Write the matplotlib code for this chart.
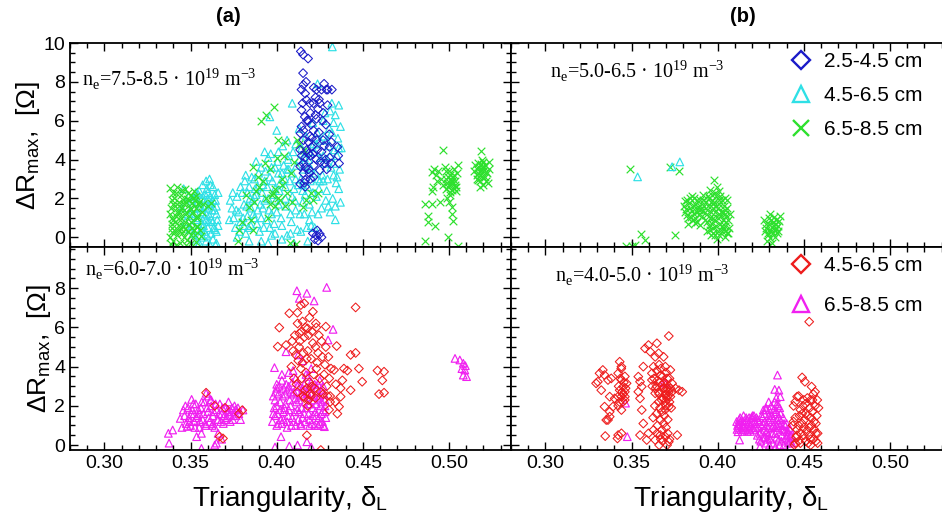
import numpy as np
import matplotlib
matplotlib.use("Agg")
import matplotlib.pyplot as plt
from matplotlib.lines import Line2D
from matplotlib.ticker import MultipleLocator

plt.rcParams['font.family'] = ['Liberation Sans', 'DejaVu Sans']
plt.rcParams['mathtext.fontset'] = 'custom'
plt.rcParams['mathtext.rm'] = 'Liberation Serif'
plt.rcParams['mathtext.sf'] = 'Liberation Sans'

# colours of the radial position bins
BLUE = '#1a1ac8'
CYAN = '#2fe0e6'
GREEN = '#2ee02e'
RED = '#ee1c1c'
MAGENTA = '#f020f0'

# ---- data: (triangularity, dR_max) ----
# (a) top: n_e = 7.5-8.5
tl_green = [
    (0.338, 2.55), (0.340, 2.3), (0.342, 2.6), (0.345, 2.45), (0.347, 2.5), (0.350, 2.2), (0.352, 2.4),
    (0.339, 1.9), (0.341, 1.6), (0.343, 1.8), (0.346, 1.7), (0.348, 1.95), (0.351, 1.75), (0.353, 1.5),
    (0.355, 1.8), (0.357, 1.7), (0.360, 1.6), (0.362, 1.75), (0.338, 1.2), (0.340, 0.9), (0.342, 1.3),
    (0.344, 1.05), (0.346, 1.4), (0.349, 1.1), (0.351, 1.25), (0.354, 1.0), (0.339, 0.5), (0.341, 0.3),
    (0.343, 0.65), (0.345, 0.2), (0.347, 0.45), (0.349, 0.7), (0.352, 0.35), (0.354, 0.55), (0.338, 0.0),
    (0.340, -0.2), (0.342, 0.1), (0.344, -0.3), (0.346, 0.0), (0.348, -0.15), (0.350, 0.1), (0.353, -0.25),
    (0.356, 0.05), (0.3385, 1.5), (0.3395, 0.7), (0.3405, 2.0), (0.3415, 1.1), (0.3425, 0.4), (0.3435, 1.6),
    (0.3445, 2.2), (0.3455, 0.6), (0.3465, 1.2), (0.3475, 1.8), (0.3485, 0.3), (0.3495, 1.5), (0.3505, 0.8),
    (0.3515, 2.0), (0.3525, 0.1), (0.3535, 1.1), (0.3545, 1.7), (0.3555, 0.4), (0.3565, 1.3), (0.3385, -0.35),
    (0.3415, -0.4), (0.3445, 0.45), (0.3475, -0.4), (0.3505, -0.3), (0.3535, 0.6), (0.3415, 2.3),
    (0.3485, 2.3), (0.3525, 1.9), (0.3395, 1.0), (0.3455, 1.9), (0.3505, 1.45), (0.3390, 0.25),
    (0.3410, 0.8), (0.3430, 1.3), (0.3450, 1.5), (0.3470, 0.8), (0.3490, 1.9), (0.3510, 0.5), (0.3530, 2.1),
    (0.3400, 1.7), (0.3440, 0.9),
    (0.391, 6.0), (0.394, 6.3), (0.3985, 6.7), (0.4005, 5.0), (0.405, 4.9), (0.393, 3.8), (0.396, 3.5),
    (0.397, 2.2), (0.399, 2.5), (0.401, 2.0), (0.384, 1.55), (0.387, 1.8), (0.378, 0.35), (0.3775, -0.2),
    (0.380, 0.8), (0.4075, -0.3), (0.411, -0.35), (0.415, 1.55), (0.417, 1.9), (0.4085, 3.3), (0.410, 3.9),
    (0.403, 2.7), (0.405, 1.6), (0.395, 1.0), (0.392, 2.9), (0.389, 3.1), (0.400, 4.1), (0.412, 5.0),
    (0.420, 2.3), (0.416, 4.5), (0.386, 0.4), (0.396, 1.7), (0.398, 2.3), (0.402, 1.9), (0.413, 4.8),
    (0.421, 1.9), (0.424, 2.3), (0.386, 3.6), (0.382, 2.2), (0.390, 2.6), (0.394, 2.0), (0.399, 1.6),
    (0.403, 3.0), (0.406, 2.3), (0.409, 1.8), (0.385, 0.9), (0.388, 2.4), (0.404, 4.2),
    (0.4968, 4.48), (0.4900, 3.36), (0.4915, 3.5), (0.4935, 3.4), (0.4977, 3.6), (0.5054, 3.7), (0.5030, 3.5),
    (0.4902, 2.4), (0.4910, 2.6), (0.4930, 2.9), (0.4996, 3.1), (0.5015, 2.76), (0.5030, 2.55), (0.5006, 2.2),
    (0.4990, 2.0), (0.5015, 1.55), (0.5020, 1.2), (0.5025, 0.86), (0.4862, 1.72), (0.4900, 1.72),
    (0.4948, 1.8), (0.4881, 1.12), (0.4881, 0.78), (0.4919, 0.6), (0.4992, 0.03), (0.4858, -0.17),
    (0.5054, -0.43), (0.500, 2.7), (0.502, 2.9), (0.504, 2.6), (0.499, 2.8), (0.501, 3.0), (0.503, 3.2),
    (0.498, 2.5), (0.5005, 2.35), (0.5035, 2.9), (0.5045, 3.3), (0.4955, 3.0), (0.4925, 3.2), (0.4985, 3.4),
    (0.500, 1.8), (0.4995, 2.6), (0.5005, 3.2), (0.5015, 2.45), (0.5025, 3.1), (0.5035, 2.7), (0.5010, 2.9),
    (0.4980, 3.0), (0.5040, 2.4), (0.4965, 2.7), (0.5000, 3.4),
    (0.5188, 4.45), (0.5235, 3.9), (0.5179, 3.2), (0.516, 3.5), (0.517, 3.8), (0.519, 3.6), (0.520, 3.4),
    (0.521, 3.1), (0.522, 3.3), (0.518, 2.9), (0.516, 3.0), (0.515, 3.7), (0.520, 2.7), (0.519, 4.0),
    (0.521, 3.7), (0.523, 3.5), (0.517, 3.3), (0.5145, 3.4), (0.5225, 2.8), (0.518, 2.6), (0.5165, 3.2),
    (0.5175, 3.6), (0.5185, 3.4), (0.5195, 3.1), (0.5205, 3.6), (0.5215, 3.35), (0.5170, 2.95),
    (0.5200, 3.9), (0.5185, 3.75), (0.5215, 2.9),
]
tl_cyan = [
    (0.359, 2.9), (0.361, 3.0), (0.357, 2.7), (0.363, 2.6), (0.355, 2.4), (0.360, 2.3), (0.364, 2.2),
    (0.346, 2.5), (0.349, 2.1), (0.352, 2.0), (0.354, 1.8), (0.356, 1.6), (0.358, 1.9), (0.360, 1.5),
    (0.362, 1.8), (0.365, 1.6), (0.350, 1.4), (0.353, 1.2), (0.355, 1.0), (0.357, 1.3), (0.359, 0.9),
    (0.361, 1.1), (0.363, 0.8), (0.365, 1.2), (0.351, 0.6), (0.354, 0.4), (0.356, 0.7), (0.358, 0.3),
    (0.360, 0.5), (0.362, 0.2), (0.364, 0.4), (0.366, 0.6), (0.352, -0.1), (0.355, -0.3), (0.357, 0.0),
    (0.359, -0.2), (0.361, -0.35), (0.363, -0.1), (0.365, -0.3), (0.347, 0.8), (0.345, 1.5),
    (0.3505, 1.9), (0.3515, 0.2), (0.3525, 1.5), (0.3535, 0.9), (0.3545, 2.2), (0.3555, 0.1), (0.3565, 2.0),
    (0.3575, 0.6), (0.3585, 1.6), (0.3595, 2.5), (0.3605, 0.8), (0.3615, 2.1), (0.3625, 1.4), (0.3635, 0.5),
    (0.3645, 1.9), (0.3655, 0.9), (0.3660, 2.3), (0.3615, 2.7), (0.3585, 2.2), (0.3545, -0.4),
    (0.3595, 0.1), (0.3645, -0.4), (0.3485, 1.2), (0.3495, 0.4), (0.3510, 1.1), (0.3530, 2.3),
    (0.3550, 1.5), (0.3570, 0.9), (0.3590, 1.2), (0.3610, 1.7), (0.3630, 1.9), (0.3650, 0.3),
    (0.3560, 0.4), (0.3620, 0.9), (0.3640, 1.4), (0.3600, 2.0),
    (0.373, 1.9), (0.374, 1.5), (0.375, 1.0), (0.376, 0.5), (0.377, 2.1), (0.378, 1.3), (0.379, 0.8),
    (0.380, 2.3), (0.381, 1.7), (0.382, 0.2), (0.383, 1.1), (0.384, 2.6), (0.382, 3.2), (0.385, 0.6),
    (0.386, 1.9), (0.387, 3.0), (0.388, 2.2), (0.389, 1.4), (0.390, 0.3), (0.391, 3.6), (0.392, 2.7),
    (0.393, 1.9), (0.394, 0.9), (0.395, 4.1), (0.396, 3.1), (0.397, 0.1), (0.398, 2.2), (0.399, 3.6),
    (0.400, 1.3), (0.401, 4.4), (0.402, 2.8), (0.403, 0.6), (0.404, 3.7), (0.405, 2.0), (0.406, 5.0),
    (0.407, 4.2), (0.408, 1.2), (0.409, 3.3), (0.410, 2.5), (0.409, 6.9), (0.411, 4.8), (0.412, 0.4),
    (0.413, 5.6), (0.414, 3.0), (0.415, 1.8), (0.416, 4.1), (0.417, 5.2), (0.418, 2.6), (0.419, 0.9),
    (0.420, 3.5), (0.421, 5.9), (0.422, 4.4), (0.423, 2.1), (0.4237, 7.9), (0.424, 3.0), (0.425, 5.0),
    (0.426, 1.5), (0.427, 6.0), (0.428, 3.8), (0.429, 2.4), (0.430, 4.7), (0.431, 6.5), (0.432, 5.4),
    (0.433, 3.2), (0.4323, 9.8), (0.434, 1.6), (0.435, 4.2), (0.436, 6.8), (0.437, 5.7), (0.434, 0.9),
    (0.400, 5.5), (0.393, 4.4), (0.388, 3.9), (0.396, 6.2), (0.391, -0.2), (0.395, -0.3), (0.399, 0.2),
    (0.403, -0.1), (0.406, 0.1), (0.410, -0.3), (0.414, 0.3), (0.418, -0.2), (0.422, 0.5), (0.379, 2.6),
    (0.377, 0.0), (0.384, -0.2), (0.387, 1.0), (0.392, 1.5), (0.397, 1.2), (0.401, 3.3), (0.406, 3.5),
    (0.411, 1.4), (0.415, 2.4), (0.419, 1.7), (0.427, 2.9), (0.431, 1.3), (0.436, 2.5), (0.433, 5.9),
    (0.3725, 0.9), (0.3745, 2.3), (0.3765, 1.4), (0.3785, 0.3), (0.3805, 1.0), (0.3815, 2.9), (0.3825, 1.6),
    (0.3835, 0.5), (0.3845, 2.0), (0.3855, 3.1), (0.3865, 1.2), (0.3875, 2.5), (0.3885, 0.7), (0.3895, 3.3),
    (0.3905, 1.7), (0.3915, 2.3), (0.3925, 0.5), (0.3935, 3.4), (0.3945, 2.6), (0.3955, 1.4), (0.3965, 4.3),
    (0.3975, 2.9), (0.3985, 0.7), (0.3995, 1.9), (0.4005, 3.9), (0.4015, 2.4), (0.4025, 1.0), (0.4035, 4.7),
    (0.4045, 3.0), (0.4055, 1.6), (0.4065, 4.0), (0.4075, 2.9), (0.4085, 0.8), (0.4095, 4.4), (0.4105, 1.9),
    (0.4115, 3.7), (0.4125, 2.7), (0.4135, 1.2), (0.4145, 4.6), (0.4155, 3.5), (0.4165, 2.2), (0.4175, 0.5),
    (0.4185, 4.0), (0.4195, 2.9), (0.4205, 1.3), (0.4215, 4.8), (0.4225, 3.3), (0.4235, 5.4), (0.4245, 2.5),
    (0.4255, 4.1), (0.4265, 3.2), (0.4275, 5.2), (0.4285, 1.9), (0.4295, 3.0), (0.4305, 5.6), (0.4315, 3.6),
    (0.4325, 2.0), (0.4335, 4.5), (0.4345, 2.8), (0.4355, 5.1), (0.4365, 3.5), (0.4375, 4.6), (0.4370, 1.8),
    (0.4340, 6.3), (0.4320, 6.9), (0.4280, 6.4),
    (0.3810, 0.6), (0.3830, 2.3), (0.3850, 1.5), (0.3870, 2.1), (0.3890, 2.6), (0.3910, 1.0), (0.3930, 2.9),
    (0.3950, 2.0), (0.3970, 3.6), (0.3990, 2.5), (0.4010, 1.7), (0.4030, 3.3), (0.4050, 2.6), (0.4070, 3.5),
    (0.4090, 2.1), (0.4110, 3.0), (0.4130, 4.0), (0.4150, 2.7), (0.4170, 4.4), (0.4190, 3.6), (0.4210, 2.3),
    (0.4230, 4.8), (0.4250, 2.9), (0.4270, 4.2), (0.4290, 5.0), (0.4310, 4.2), (0.4330, 3.8), (0.4350, 3.1),
    (0.4360, 4.6), (0.4240, 1.2), (0.4200, 0.6), (0.4080, 0.2), (0.3960, 0.5), (0.4160, 1.2), (0.4300, 1.6),
]
tl_blue = [
    (0.4140, 9.57), (0.4153, 9.4), (0.4182, 9.2), (0.4153, 8.45), (0.4144, 7.6), (0.4155, 7.85),
    (0.4173, 7.07), (0.4165, 7.4), (0.4192, 6.9), (0.4144, 6.55), (0.4163, 6.2), (0.4182, 6.0),
    (0.4231, 7.6), (0.4260, 7.6), (0.4288, 7.6), (0.4213, 6.9), (0.4231, 6.1), (0.4213, 5.5),
    (0.4155, 5.0), (0.4136, 4.5), (0.4175, 4.5), (0.4195, 4.2), (0.4155, 3.8), (0.4136, 2.75),
    (0.4165, 2.95), (0.4213, 3.1), (0.4250, 3.45), (0.4279, 3.8), (0.4307, 4.1), (0.4317, 3.8),
    (0.4307, 4.65), (0.4317, 4.9), (0.4269, 5.0), (0.4231, 5.0), (0.4192, 5.2), (0.4144, 5.7),
    (0.4138, 5.35), (0.4202, 4.65), (0.4155, 3.3), (0.4136, 3.65), (0.4165, 2.6), (0.4296, 7.6),
    (0.4320, 7.6), (0.4352, 4.65), (0.4362, 3.8), (0.4357, 4.2), (0.4240, 6.6), (0.4250, 6.9),
    (0.4225, 7.2), (0.4270, 6.4), (0.4285, 5.8), (0.4200, 5.8), (0.4185, 4.9), (0.4210, 4.3),
    (0.4230, 4.0), (0.4260, 4.4), (0.4290, 3.5), (0.4185, 3.5), (0.4165, 4.1),
    (0.4145, 4.2), (0.4155, 5.5), (0.4165, 3.6), (0.4175, 6.0), (0.4185, 4.3), (0.4195, 3.0), (0.4205, 5.1),
    (0.4215, 3.7), (0.4225, 6.3), (0.4235, 4.5), (0.4245, 5.4), (0.4255, 3.9), (0.4265, 6.0), (0.4275, 4.7),
    (0.4285, 4.0), (0.4295, 6.8), (0.4305, 5.3), (0.4150, 6.9), (0.4170, 8.0), (0.4195, 6.4), (0.4215, 7.7),
    (0.4245, 7.1), (0.4275, 7.9), (0.4160, 2.8), (0.4190, 3.3),
    (0.4210, 0.2), (0.4230, 0.1), (0.4250, 0.17), (0.4221, -0.1), (0.4240, -0.17), (0.4260, 0.0),
    (0.4235, 0.35),
]
# (b) top: n_e = 5.0-6.5
tr_cyan = [(0.3535, 3.11), (0.3735, 3.63), (0.3780, 3.88)]
tr_green = [
    (0.349, 3.49), (0.3725, 3.63), (0.3775, 3.42), (0.3555, 0.19), (0.3575, -0.15), (0.3751, 0.14),
    (0.347, -0.45), (0.350, -0.45), (0.352, -0.42),
    (0.3805, 1.6), (0.381, 1.3), (0.382, 1.9), (0.383, 1.0), (0.384, 1.5), (0.385, 2.1), (0.386, 1.2),
    (0.387, 1.7), (0.388, 0.8), (0.389, 1.4), (0.390, 1.9), (0.391, 1.1), (0.392, 1.6), (0.3825, 0.7),
    (0.3865, 2.0), (0.3895, 0.65), (0.3835, 1.75), (0.3875, 1.35), (0.3855, 0.9), (0.3905, 1.45),
    (0.3810, 1.85), (0.3820, 1.15), (0.3840, 2.0), (0.3850, 1.35), (0.3860, 1.6), (0.3870, 1.0),
    (0.3880, 1.9), (0.3890, 1.15), (0.3900, 1.6), (0.3910, 1.35), (0.3915, 1.9), (0.3845, 1.05),
    (0.3885, 1.55), (0.3815, 1.45), (0.3870, 0.75),
    (0.3980, 2.94), (0.3953, 2.42), (0.3995, 2.6), (0.4051, 1.9), (0.3912, 2.16), (0.393, 1.8),
    (0.394, 1.2), (0.395, 0.6), (0.396, 0.1), (0.397, 1.5), (0.398, 0.9), (0.399, 2.1), (0.400, 0.3),
    (0.401, 1.7), (0.402, 1.1), (0.403, 0.5), (0.404, 1.4), (0.405, 0.8), (0.406, 0.2), (0.407, 1.2),
    (0.3935, 0.3), (0.3965, 2.2), (0.3985, 1.3), (0.4005, 2.4), (0.4025, 1.9), (0.4045, 0.0),
    (0.3945, 1.6), (0.3975, 0.5), (0.4015, 0.7), (0.4035, 1.6), (0.3955, 1.0), (0.3995, -0.1),
    (0.4055, 1.5), (0.3925, 0.9), (0.4065, 0.5), (0.3940, 0.8), (0.3950, 2.0), (0.3960, 1.3),
    (0.3970, 0.2), (0.3980, 1.8), (0.3990, 0.6), (0.4000, 1.5), (0.4010, 0.1), (0.4020, 1.3),
    (0.4030, 0.9), (0.4040, 2.0), (0.4050, 1.1), (0.4060, 0.9), (0.4000, 1.0), (0.3985, 0.1),
    (0.4025, 0.3), (0.3960, 1.8), (0.4015, 2.1), (0.4045, 0.6), (0.3935, 1.4), (0.3990, 1.6),
    (0.4030, 1.3), (0.3975, 1.0), (0.4055, 0.2), (0.3945, 2.1), (0.3965, 0.7), (0.3985, 2.3),
    (0.4005, 1.2), (0.4025, 0.6), (0.4045, 1.2), (0.3955, 0.4), (0.4010, 1.9), (0.4040, 0.3), (0.3970, 1.7),
    (0.4304, 1.22), (0.4325, 1.05), (0.427, 0.9), (0.428, 0.5), (0.429, 0.1), (0.430, 0.7), (0.431, 0.3),
    (0.432, 0.8), (0.433, 0.4), (0.434, 0.9), (0.435, 0.6), (0.436, 1.1), (0.4285, -0.2), (0.4315, -0.3),
    (0.4335, 0.0), (0.4295, 1.0), (0.4345, 0.2), (0.4275, 0.3), (0.4325, 0.6), (0.4305, -0.05),
    (0.4280, 0.7), (0.4300, 0.4), (0.4310, 0.9), (0.4320, 0.2), (0.4330, 0.7), (0.4340, 0.5),
    (0.4290, 0.2), (0.4350, 0.3), (0.4315, 0.55), (0.4355, 0.85),
]
# (a) bottom: n_e = 6.0-7.0
bl_red = [
    (0.3590, 2.67), (0.3669, 0.43), (0.3688, 0.34), (0.3781, 1.6), (0.3800, 1.78), (0.3640, 2.0), (0.3700, 1.9),
    (0.4458, 7.02), (0.4140, 7.14), (0.4160, 7.23), (0.4073, 6.72), (0.4120, 6.75), (0.4015, 5.99),
    (0.4006, 5.02), (0.4054, 5.1), (0.4121, 6.2), (0.4131, 5.7), (0.4179, 5.95), (0.4227, 6.2),
    (0.4285, 6.04), (0.4348, 5.05), (0.4429, 4.6), (0.4458, 4.7), (0.4477, 3.9), (0.4496, 3.23),
    (0.4429, 2.8), (0.4585, 3.8), (0.4623, 3.74), (0.4613, 3.3), (0.4594, 2.6), (0.4623, 2.67),
    (0.4390, 3.9), (0.4410, 3.8), (0.4381, 3.3), (0.4371, 2.47), (0.4362, 1.96), (0.4340, 2.2),
    (0.4352, 1.6), (0.4304, 1.8), (0.4310, 2.5), (0.4333, 3.83), (0.4343, 3.1), (0.4371, 2.9),
    (0.4175, 0.5), (0.4256, -0.25),
    (0.409, 5.3), (0.411, 4.6), (0.413, 5.0), (0.415, 4.2), (0.416, 5.5), (0.417, 3.7), (0.418, 4.8),
    (0.419, 3.2), (0.420, 4.4), (0.421, 5.2), (0.422, 2.9), (0.423, 3.9), (0.424, 4.7), (0.425, 3.4),
    (0.426, 5.3), (0.427, 2.6), (0.428, 4.1), (0.429, 3.0), (0.430, 4.5), (0.431, 2.2), (0.410, 3.4),
    (0.412, 2.7), (0.414, 3.9), (0.416, 2.4), (0.418, 2.0), (0.420, 2.5), (0.419, 6.5), (0.421, 6.8),
    (0.423, 6.0), (0.415, 6.3), (0.4145, 5.8),
    (0.4085, 4.0), (0.4095, 4.8), (0.4105, 5.6), (0.4115, 3.1), (0.4125, 4.3), (0.4135, 5.3), (0.4145, 3.4),
    (0.4155, 4.7), (0.4165, 6.0), (0.4175, 4.4), (0.4185, 5.6), (0.4195, 2.6), (0.4205, 5.8), (0.4215, 3.6),
    (0.4225, 5.0), (0.4235, 4.2), (0.4245, 5.6), (0.4255, 2.7), (0.4265, 4.5), (0.4275, 3.6), (0.4285, 5.0),
    (0.4295, 2.5), (0.4305, 3.4), (0.4315, 3.9), (0.4165, 2.8), (0.4185, 2.3), (0.4205, 3.0), (0.4155, 2.5),
    (0.4225, 2.4), (0.4175, 2.9),
]
bl_magenta = [
    (0.3371, 0.6), (0.3396, 0.77), (0.3506, 2.33), (0.3458, 1.79), (0.3440, 1.36), (0.3450, 0.9),
    (0.3480, 0.95), (0.3535, 0.43), (0.3563, 0.6), (0.3590, 2.64), (0.3604, 2.5), (0.3620, 2.3),
    (0.3640, 0.0), (0.3650, 0.1), (0.3563, -0.17), (0.3375, 0.1),
    (0.347, 2.0), (0.349, 1.4), (0.350, 1.0), (0.351, 1.8), (0.352, 1.2), (0.353, 2.1), (0.354, 1.5),
    (0.355, 0.9), (0.356, 1.9), (0.357, 1.3), (0.358, 2.2), (0.359, 1.0), (0.360, 1.7), (0.361, 1.2),
    (0.362, 2.0), (0.363, 1.5), (0.364, 0.9), (0.365, 1.8), (0.366, 1.3), (0.367, 2.1), (0.368, 1.6),
    (0.369, 1.1), (0.370, 1.9), (0.371, 1.4), (0.372, 1.7), (0.373, 1.2), (0.374, 1.9), (0.375, 1.5),
    (0.376, 1.8), (0.378, 1.6), (0.3804, 1.79), (0.379, 1.3), (0.372, 2.2), (0.366, 0.6), (0.368, 0.3),
    (0.363, 1.1), (0.355, 1.6), (0.352, 1.6),
    (0.3465, 1.5), (0.3475, 1.1), (0.3485, 1.9), (0.3495, 1.2), (0.3505, 1.6), (0.3515, 2.1), (0.3525, 0.9),
    (0.3535, 1.4), (0.3545, 1.8), (0.3555, 1.2), (0.3565, 2.2), (0.3575, 1.6), (0.3585, 1.1), (0.3595, 1.9),
    (0.3605, 1.4), (0.3615, 2.3), (0.3625, 1.0), (0.3635, 1.7), (0.3645, 2.1), (0.3655, 1.3), (0.3665, 1.6),
    (0.3675, 1.2), (0.3685, 1.9), (0.3695, 1.5), (0.3705, 1.3), (0.3715, 1.8), (0.3725, 1.5), (0.3735, 1.7),
    (0.3745, 1.3), (0.3755, 2.0), (0.3765, 1.5), (0.3775, 1.9),
    (0.4117, 7.87), (0.4175, 7.74), (0.4131, 7.48), (0.4290, 8.04), (0.4217, 7.35), (0.4327, 5.9),
    (0.4298, 5.36), (0.3987, 3.95), (0.4054, 4.76), (0.4000, 3.1),
    (0.398, 2.5), (0.399, 1.5), (0.400, 2.9), (0.401, 1.1), (0.402, 2.2), (0.403, 3.3), (0.404, 1.7),
    (0.405, 2.6), (0.406, 1.2), (0.407, 3.0), (0.408, 2.0), (0.409, 1.4), (0.410, 2.7), (0.411, 3.4),
    (0.412, 1.8), (0.413, 2.3), (0.414, 1.0), (0.415, 2.9), (0.416, 1.6), (0.417, 3.6), (0.418, 2.1),
    (0.419, 1.3), (0.420, 2.6), (0.421, 1.9), (0.422, 3.1), (0.423, 1.5), (0.424, 2.4), (0.425, 1.1),
    (0.426, 2.8), (0.427, 1.8), (0.428, 2.3), (0.4285, 1.4), (0.4095, 3.8), (0.415, 4.3), (0.420, 3.9),
    (0.4125, 4.6),
    (0.3975, 1.2), (0.3985, 1.9), (0.3995, 2.7), (0.4005, 1.6), (0.4015, 3.0), (0.4025, 1.3), (0.4035, 2.5),
    (0.4045, 1.9), (0.4055, 3.1), (0.4065, 1.5), (0.4075, 2.3), (0.4085, 1.0), (0.4095, 2.6), (0.4105, 1.7),
    (0.4115, 2.2), (0.4125, 1.3), (0.4135, 3.0), (0.4145, 1.9), (0.4155, 2.5), (0.4165, 1.2), (0.4175, 2.7),
    (0.4185, 1.6), (0.4195, 3.0), (0.4205, 1.1), (0.4215, 2.3), (0.4225, 1.7), (0.4235, 2.9), (0.4245, 1.4),
    (0.4255, 2.0), (0.4265, 1.2), (0.4275, 2.6), (0.4280, 1.7), (0.4000, 1.0), (0.4060, 0.9), (0.4140, 1.1),
    (0.4220, 1.0), (0.4270, 1.0), (0.4030, 3.6), (0.4070, 3.7), (0.4180, 3.5), (0.4250, 3.3),
    (0.3980, 1.6), (0.3990, 2.3), (0.4000, 2.0), (0.4010, 2.6), (0.4020, 1.8), (0.4030, 1.1), (0.4040, 2.9),
    (0.4050, 2.1), (0.4060, 2.8), (0.4070, 1.8), (0.4080, 2.7), (0.4090, 3.2), (0.4100, 1.2), (0.4110, 2.4),
    (0.4120, 3.0), (0.4130, 1.7), (0.4140, 2.6), (0.4150, 1.4), (0.4160, 3.1), (0.4170, 1.9), (0.4180, 2.6),
    (0.4190, 2.1), (0.4200, 3.2), (0.4210, 1.5), (0.4220, 2.5), (0.4230, 2.1), (0.4240, 3.1), (0.4250, 2.5),
    (0.4260, 1.6), (0.4270, 3.0), (0.4280, 2.0), (0.4040, 1.3), (0.4110, 1.0), (0.4190, 1.0), (0.4240, 1.0),
    (0.4260, 2.2),
    (0.4025, 0.43), (0.4073, -0.05), (0.4121, 0.0), (0.4175, 0.17), (0.3990, -0.1), (0.4277, 0.94),
    (0.4200, -0.1),
    (0.5035, 4.42), (0.5063, 4.34), (0.5083, 4.17), (0.5092, 3.83), (0.5083, 3.57), (0.5102, 3.49),
    (0.5075, 3.9), (0.5095, 4.05),
]
# (b) bottom: n_e = 4.0-5.0
br_red = [
    (0.3304, 3.23), (0.3314, 3.66), (0.3333, 3.83), (0.3343, 3.57), (0.3294, 3.15), (0.3324, 2.8),
    (0.3363, 3.32), (0.3382, 3.40), (0.3343, 1.96), (0.3353, 1.28), (0.3373, 1.45), (0.3373, 2.47),
    (0.3347, 0.46),
    (0.3431, 4.25), (0.3441, 4.0), (0.3422, 3.66), (0.3441, 3.32), (0.3451, 2.98), (0.3461, 2.72),
    (0.3431, 2.8), (0.3441, 2.47), (0.3471, 3.15), (0.3461, 3.5), (0.3422, 2.47), (0.3402, 2.38),
    (0.3392, 1.96), (0.3373, 1.7), (0.3363, 1.28), (0.3422, 2.0), (0.3441, 1.79), (0.3451, 2.21),
    (0.3422, 0.51), (0.3441, 0.6), (0.3418, 0.34), (0.3461, 2.47), (0.3425, 3.0), (0.3435, 3.4),
    (0.3445, 2.7), (0.3455, 3.2), (0.3465, 2.9), (0.3430, 2.2), (0.3450, 2.6), (0.3440, 3.9), (0.3460, 2.3),
    (0.3539, 3.49), (0.3549, 3.23), (0.3559, 2.98), (0.3539, 2.72), (0.3568, 4.0), (0.3578, 4.93),
    (0.3598, 5.1), (0.3608, 4.76), (0.3549, 2.38), (0.3559, 1.79), (0.3568, 1.1), (0.3549, 0.51),
    (0.3588, 0.26), (0.3598, 0.6),
    (0.3647, 5.19), (0.3657, 4.68), (0.3637, 4.5), (0.3716, 5.56), (0.3686, 4.5), (0.3627, 4.0),
    (0.3618, 3.66), (0.3647, 3.8), (0.3667, 3.57), (0.3696, 4.0), (0.3725, 3.83), (0.3706, 3.4),
    (0.3735, 3.15), (0.3755, 2.89), (0.3775, 2.8), (0.3794, 2.72), (0.3676, 3.06), (0.3706, 2.8),
    (0.3725, 2.47), (0.3696, 2.21), (0.3716, 1.96), (0.3676, 1.7), (0.3667, 1.28), (0.3686, 1.1),
    (0.3627, 0.77), (0.3647, 0.6), (0.3667, 0.51), (0.3696, 0.43), (0.3716, 0.17), (0.3706, 0.0),
    (0.3637, 0.26), (0.3676, 0.77), (0.3765, 0.51), (0.3618, 3.32), (0.3637, 2.64), (0.3696, 2.55),
    (0.3735, 2.72), (0.3657, 2.2), (0.3690, 3.2), (0.3705, 2.9), (0.3715, 3.0), (0.3700, 2.6),
    (0.3720, 2.2), (0.3620, 3.0), (0.3630, 3.4), (0.3640, 2.9), (0.3650, 3.3), (0.3660, 2.6), (0.3670, 3.9),
    (0.3680, 2.4), (0.3690, 2.9), (0.3700, 2.0), (0.3710, 2.5), (0.3720, 3.4), (0.3730, 1.9), (0.3660, 4.1),
    (0.3680, 3.5), (0.3700, 3.7), (0.3650, 1.0), (0.3670, 0.3), (0.3690, 1.5), (0.3710, 0.6), (0.3720, 0.3),
    (0.3700, 0.9), (0.3660, 0.0), (0.3680, 0.2), (0.3710, 1.3), (0.3625, 1.4), (0.3635, 2.0), (0.3645, 1.6),
    (0.3655, 2.7), (0.3665, 1.9), (0.3675, 2.3), (0.3685, 2.9), (0.3695, 1.8), (0.3705, 2.4), (0.3715, 2.7),
    (0.3725, 2.9), (0.3665, 3.2), (0.3645, 3.0),
    (0.4531, 6.29), (0.4490, 3.45), (0.4506, 3.23), (0.4545, 2.98), (0.4565, 2.72), (0.4461, 2.47),
    (0.4500, 2.3), (0.4539, 2.3), (0.4578, 2.3),
    (0.444, 2.0), (0.445, 1.4), (0.446, 0.8), (0.447, 0.2), (0.448, 1.8), (0.449, 1.1), (0.450, 0.5),
    (0.451, 2.1), (0.452, 1.5), (0.453, 0.9), (0.454, 0.3), (0.455, 1.7), (0.456, 1.2), (0.457, 0.6),
    (0.458, 0.1), (0.4435, 1.0), (0.4455, 0.4), (0.4475, 1.5), (0.4495, 2.0), (0.4515, 0.7),
    (0.4535, 1.9), (0.4555, 0.3), (0.4575, 1.5), (0.4445, 0.0), (0.4505, 1.3), (0.4525, 0.1),
    (0.4545, 1.0), (0.4565, 2.0), (0.4440, 1.2), (0.4450, 2.2), (0.4460, 0.5), (0.4470, 1.0), (0.4480, 0.6),
    (0.4490, 1.6), (0.4500, 0.9), (0.4510, 1.6), (0.4520, 2.4), (0.4530, 0.5), (0.4540, 1.4), (0.4550, 2.3),
    (0.4560, 0.8), (0.4570, 1.1), (0.4580, 0.6), (0.4450, 0.1), (0.4480, 0.1), (0.4510, 0.2), (0.4540, 0.0),
    (0.4570, 0.2), (0.4585, 1.9), (0.4470, 2.5), (0.4555, 2.6),
]
br_magenta = [
    (0.3465, 2.14), (0.3475, 0.43), (0.3690, 3.23), (0.3700, 3.15), (0.4347, 3.57), (0.4331, 2.84),
    (0.4355, 2.8), (0.4363, 2.47), (0.4296, 2.2), (0.4265, 1.79), (0.4255, 1.5), (0.4200, 1.4),
    (0.4280, 1.9),
    (0.411, 1.2), (0.412, 0.9), (0.413, 1.4), (0.414, 1.0), (0.415, 1.5), (0.416, 0.8), (0.417, 1.3),
    (0.418, 1.1), (0.419, 0.7), (0.420, 1.2), (0.421, 1.5), (0.422, 0.9), (0.4118, 0.68), (0.4127, 0.26),
    (0.4145, 1.25), (0.4175, 0.95), (0.4115, 1.0), (0.4125, 1.3), (0.4135, 0.8), (0.4155, 1.1),
    (0.4165, 1.4), (0.4185, 0.8), (0.4195, 1.4), (0.4205, 0.9), (0.4215, 1.2), (0.4225, 1.4),
    (0.4112, 0.8), (0.4122, 1.1), (0.4132, 1.2), (0.4142, 0.7), (0.4152, 0.9), (0.4162, 1.2), (0.4172, 0.7),
    (0.4182, 1.4), (0.4192, 1.0), (0.4202, 1.5), (0.4212, 0.8), (0.4222, 1.1),
    (0.423, 0.5), (0.424, 1.2), (0.425, 0.2), (0.426, 1.4), (0.427, 0.8), (0.428, 1.8), (0.429, 0.3),
    (0.430, 1.2), (0.431, 2.0), (0.432, 0.6), (0.433, 1.6), (0.434, 2.4), (0.435, 0.9), (0.436, 1.9),
    (0.437, 0.2), (0.438, 1.4), (0.439, 0.7), (0.440, 1.1), (0.441, 0.3), (0.442, 0.8), (0.443, 0.1),
    (0.4245, -0.1), (0.4335, -0.1), (0.4385, 0.0), (0.4315, 1.5), (0.4355, 1.4), (0.4295, 0.9),
    (0.4345, 2.1), (0.4325, 1.0), (0.4365, 1.0), (0.4275, 0.4), (0.4405, 0.5),
    (0.4235, 0.9), (0.4245, 0.6), (0.4255, 1.0), (0.4265, 0.4), (0.4275, 1.2), (0.4285, 0.7), (0.4295, 1.5),
    (0.4305, 0.3), (0.4315, 0.9), (0.4325, 1.8), (0.4335, 0.6), (0.4345, 1.3), (0.4355, 0.3), (0.4365, 1.6),
    (0.4375, 0.8), (0.4385, 1.1), (0.4395, 0.4), (0.4415, 0.9), (0.4425, 0.5), (0.4340, 1.7), (0.4330, 2.2),
    (0.4350, 2.0), (0.4300, 1.8), (0.4360, 0.0), (0.4300, 0.0), (0.4410, 0.1),
    (0.4232, 1.3), (0.4242, 0.3), (0.4252, 0.7), (0.4262, 1.1), (0.4272, 1.6), (0.4282, 1.0), (0.4292, 0.5),
    (0.4302, 1.4), (0.4312, 0.6), (0.4322, 1.3), (0.4332, 0.9), (0.4342, 0.4), (0.4352, 1.1), (0.4362, 1.3),
    (0.4372, 0.5), (0.4382, 0.8), (0.4392, 1.0), (0.4402, 0.7), (0.4412, 0.6), (0.4422, 0.2), (0.4340, 1.0),
    (0.4320, 0.1), (0.4280, 0.1),
]

ne_labels = ['7.5-8.5', '5.0-6.5', '6.0-7.0', '4.0-5.0']
top_bins = ['2.5-4.5 cm', '4.5-6.5 cm', '6.5-8.5 cm']
bottom_bins = ['4.5-6.5 cm', '6.5-8.5 cm']

XLIM = (0.28, 0.536)
W, H = 942, 518

fig = plt.figure(figsize=(W / 100, H / 100), dpi=100)


def px_axes(x0, y0, x1, y1):
    # pixel box (top-left origin) -> figure axes
    return fig.add_axes([x0 / W, 1 - y1 / H, (x1 - x0) / W, (y1 - y0) / H])


ax_tl = px_axes(70, 43, 511, 247)
ax_tr = px_axes(511, 43, 952, 247)
ax_bl = px_axes(70, 247, 511, 450)
ax_br = px_axes(511, 247, 952, 450)


def scat(ax, pts, marker, color, size=30, lw=0.85):
    arr = np.array(pts)
    if marker == 'x':
        ax.scatter(arr[:, 0], arr[:, 1], marker='x', c=color, s=size, linewidths=lw)
    else:
        ax.scatter(arr[:, 0], arr[:, 1], marker=marker, facecolors='none',
                   edgecolors=color, s=size, linewidths=lw)


scat(ax_tl, tl_cyan, '^', CYAN)
scat(ax_tl, tl_green, 'x', GREEN)
scat(ax_tl, tl_blue, 'D', BLUE, size=20, lw=0.75)
scat(ax_tr, tr_green, 'x', GREEN)
scat(ax_tr, tr_cyan, '^', CYAN)
scat(ax_bl, bl_magenta, '^', MAGENTA)
scat(ax_bl, bl_red, 'D', RED, size=20, lw=0.75)
scat(ax_br, br_magenta, '^', MAGENTA)
scat(ax_br, br_red, 'D', RED, size=20, lw=0.75)

for ax in (ax_tl, ax_tr, ax_bl, ax_br):
    ax.set_xlim(*XLIM)
    ax.xaxis.set_major_locator(MultipleLocator(0.05))
    ax.xaxis.set_minor_locator(MultipleLocator(0.01))
    ax.yaxis.set_minor_locator(MultipleLocator(0.5))
    ax.tick_params(which='both', direction='in', top=True, right=True, labelsize=14, width=1.0)
    ax.tick_params(which='major', length=6)
    ax.tick_params(which='minor', length=3.5)
    for s in ax.spines.values():
        s.set_linewidth(1.3)

for ax in (ax_tl, ax_tr):
    ax.set_ylim(-0.5, 10)
    ax.set_yticks([0, 2, 4, 6, 8, 10])
    ax.tick_params(labelbottom=False)
for ax in (ax_bl, ax_br):
    ax.set_ylim(-0.25, 10.1)
    ax.set_yticks([0, 2, 4, 6, 8])
    ax.set_xticks([0.30, 0.35, 0.40, 0.45, 0.50])
    ax.set_xticklabels(['0.30', '0.35', '0.40', '0.45', '0.50'])
    ax.set_xlabel('Triangularity, δ$_\\mathsf{L}$', fontsize=20, labelpad=9)
for ax in (ax_tr, ax_br):
    ax.tick_params(labelleft=False)
for ax in (ax_tl, ax_bl):
    ax.set_ylabel('ΔR$_\\mathsf{max}$,  [Ω]', fontsize=19, labelpad=1)

# density annotations
ne_pos = [(ax_tl, 0.027, 0.82), (ax_tr, 0.088, 0.86), (ax_bl, 0.034, 0.89), (ax_br, 0.10, 0.86)]
for (ax, tx, ty), ne in zip(ne_pos, ne_labels):
    ax.text(tx, ty, r'n$_\mathrm{e}$=' + ne + r' · 10$^{19}$ m$^{-3}$', transform=ax.transAxes,
            family='Liberation Serif', fontsize=14.5, va='center', ha='left')

# legends
top_handles = [
    Line2D([], [], ls='none', marker='D', mfc='none', mec=BLUE, ms=9, mew=1.7),
    Line2D([], [], ls='none', marker='^', mfc='none', mec=CYAN, ms=11, mew=1.7),
    Line2D([], [], ls='none', marker='x', color=GREEN, ms=11, mew=1.7),
]
bottom_handles = [
    Line2D([], [], ls='none', marker='D', mfc='none', mec=RED, ms=9, mew=1.7),
    Line2D([], [], ls='none', marker='^', mfc='none', mec=MAGENTA, ms=11, mew=1.7),
]
ax_tr.legend(top_handles, top_bins, loc='upper left', bbox_to_anchor=(0.635, 0.955), frameon=False,
             fontsize=15, handlelength=1.0, handletextpad=0.6, labelspacing=0.72,
             borderpad=0, borderaxespad=0)
ax_br.legend(bottom_handles, bottom_bins, loc='upper left', bbox_to_anchor=(0.635, 0.955), frameon=False,
             fontsize=15, handlelength=1.0, handletextpad=0.6, labelspacing=1.0,
             borderpad=0, borderaxespad=0)

fig.text(228 / W, 1 - 16 / H, '(a)', fontsize=14.5, fontweight='bold', ha='center', va='center')
fig.text(743 / W, 1 - 16 / H, '(b)', fontsize=14.5, fontweight='bold', ha='center', va='center')

fig.savefig('out.png', dpi=100)
